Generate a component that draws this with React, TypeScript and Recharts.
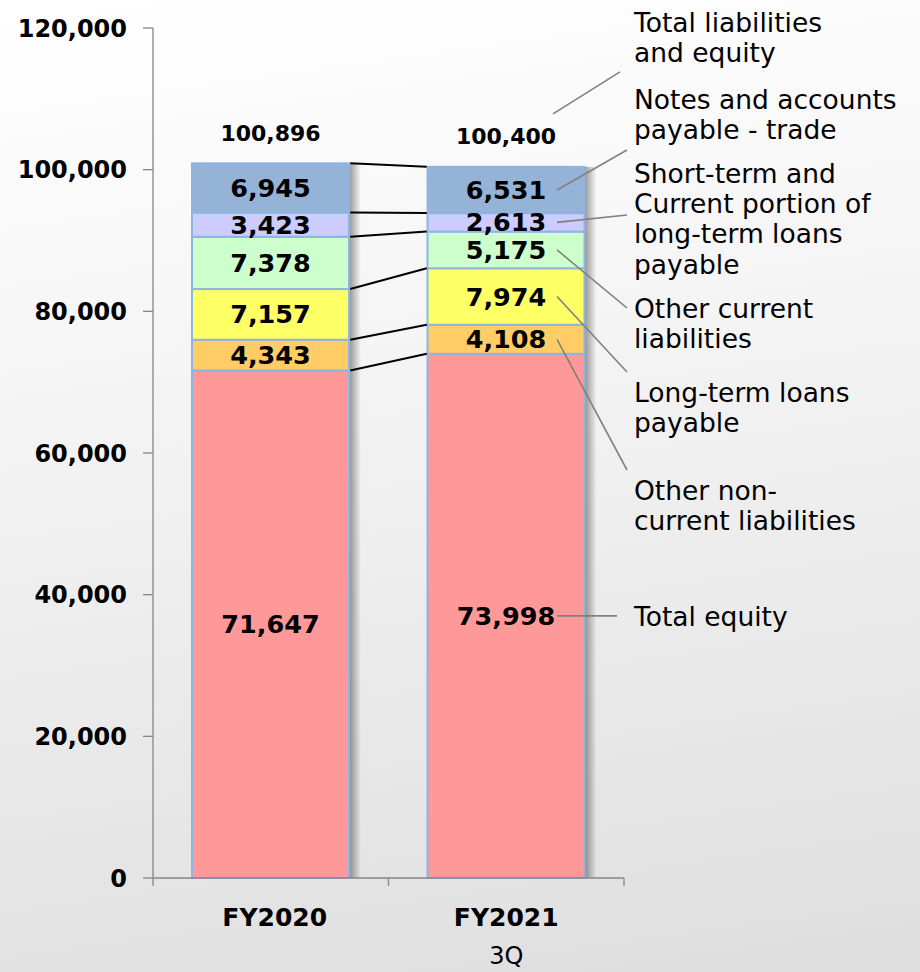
import React from "react";
import { BarChart, Bar, XAxis, YAxis, LabelList, ReferenceLine } from "recharts";

// ---------------- data ----------------
const categories = ["FY2020", "FY2021"];
const categorySubLabels = ["", "3Q"];
const totalEquity = [71647, 73998];
const otherNonCurrentLiabilities = [4343, 4108];
const longTermLoansPayable = [7157, 7974];
const otherCurrentLiabilities = [7378, 5175];
const shortTermLoansPayable = [3423, 2613];
const notesAccountsPayable = [6945, 6531];
const totalLiabilitiesAndEquity = [100896, 100400];
const yTicks = [0, 20000, 40000, 60000, 80000, 100000, 120000];

const totalAnnotation = ["Total liabilities", "and equity"];

// ---------------- styling / layout ----------------
const FONT = "'DejaVu Sans', Verdana, sans-serif";
const W = 920;
const H = 972;
const BAR_W = 157;
const BAR_STROKE = "#8EB4E3";
const LEADER = "#808080";
const TEXT_X = 634;
const NOTE_SIZE = 26.5;
const NOTE_LH = 30.2;

type Series = {
  key: string;
  values: number[];
  color: string;
  note: string[];
  noteBaseline: number; // baseline of first annotation line (layout)
  leaderEnd: [number, number] | null; // end of leader line (layout), null => horizontal
};

const series: Series[] = [
  { key: "equity", values: totalEquity, color: "#FF9999", note: ["Total equity"], noteBaseline: 626, leaderEnd: null },
  { key: "otherNonCurrent", values: otherNonCurrentLiabilities, color: "#FFCC66", note: ["Other non-", "current liabilities"], noteBaseline: 500, leaderEnd: [627, 470] },
  { key: "longTerm", values: longTermLoansPayable, color: "#FFFF66", note: ["Long-term loans", "payable"], noteBaseline: 402, leaderEnd: [627, 372] },
  { key: "otherCurrent", values: otherCurrentLiabilities, color: "#CCFFCC", note: ["Other current", "liabilities"], noteBaseline: 318, leaderEnd: [627, 308] },
  { key: "shortTerm", values: shortTermLoansPayable, color: "#CCCCFF", note: ["Short-term and", "Current portion of", "long-term loans", "payable"], noteBaseline: 183, leaderEnd: [627, 215] },
  { key: "notes", values: notesAccountsPayable, color: "#95B3D7", note: ["Notes and accounts", "payable - trade"], noteBaseline: 109, leaderEnd: [627, 150] },
];

const data = categories.map((cat, i) => {
  const row: Record<string, any> = { cat, sub: categorySubLabels[i], total: totalLiabilitiesAndEquity[i] };
  series.forEach((s) => (row[s.key] = s.values[i]));
  return row;
});

// cumulative tops of each segment, for connector lines
const cumulative = series.map((_, k) =>
  categories.map((__, i) => series.slice(0, k + 1).reduce((acc, s) => acc + s.values[i], 0))
);

const fmt = (v: number) => v.toLocaleString("en-US");

const getBox = (p: any) => {
  const vb = p.viewBox || p;
  return { x: Number(vb.x), y: Number(vb.y), width: Number(vb.width), height: Number(vb.height) };
};
const getIndex = (p: any) => {
  if (typeof p.index === "number") return p.index;
  const c = p.payload?.cat;
  return Math.max(0, categories.indexOf(c));
};

const Annotation = ({ lines, baseline }: { lines: string[]; baseline: number }) => (
  <g>
    {lines.map((l, j) => (
      <text key={j} x={TEXT_X} y={baseline + j * NOTE_LH} fontFamily={FONT} fontSize={NOTE_SIZE} fill="#000">
        {l}
      </text>
    ))}
  </g>
);

const makeSegmentLabel = (s: Series, isTop: boolean) => (props: any) => {
  const { x, y, width, height } = getBox(props);
  const i = getIndex(props);
  const cx = x + width / 2;
  const cy = y + height / 2;
  const val = s.values[i];
  const parts: React.ReactNode[] = [];
  parts.push(
    <text key="v" x={cx} y={cy} textAnchor="middle" dominantBaseline="central" fontFamily={FONT} fontSize={25.5} fontWeight="bold" fill="#000">
      {fmt(val)}
    </text>
  );
  if (i === categories.length - 1) {
    const sx = cx + 51;
    const end = s.leaderEnd ?? [sx + 60, cy];
    parts.push(<line key="l" x1={sx} y1={cy} x2={end[0]} y2={end[1]} stroke={LEADER} strokeWidth={1.6} />);
    parts.push(<Annotation key="a" lines={s.note} baseline={s.noteBaseline} />);
  }
  if (isTop) {
    const ty = y - 30;
    parts.push(
      <text key="t" x={cx} y={ty} textAnchor="middle" dominantBaseline="central" fontFamily={FONT} fontSize={22} fontWeight="bold" fill="#000">
        {fmt(totalLiabilitiesAndEquity[i])}
      </text>
    );
    if (i === categories.length - 1) {
      parts.push(<line key="tl" x1={cx + 47} y1={ty - 23} x2={cx + 114} y2={ty - 65} stroke={LEADER} strokeWidth={1.6} />);
      parts.push(<Annotation key="ta" lines={totalAnnotation} baseline={32} />);
    }
  }
  return <g>{parts}</g>;
};

const SegmentShape = (fill: string) => (props: any) => {
  const { x, y, width, height } = props;
  if (!height || height <= 0) return <g />;
  return (
    <g>
      <rect x={x + width} y={y} width={12} height={height} fill="url(#barShadow)" />
      <rect x={x} y={y} width={width} height={height} fill={fill} stroke={BAR_STROKE} strokeWidth={2} />
    </g>
  );
};

const ConnectorShape = (p: any) => (
  <line x1={p.x1 + BAR_W / 2 + 1} y1={p.y1} x2={p.x2 - BAR_W / 2 - 1} y2={p.y2} stroke="#000" strokeWidth={2} />
);

const X_TICK_SIZE = 10;
const XTick = (props: any) => {
  const { x, y, payload, index } = props;
  const off = payload?.offset ?? 117.75;
  const axisY = y - X_TICK_SIZE;
  const i = typeof index === "number" ? index : categories.indexOf(payload?.value);
  const sub = categorySubLabels[i] || "";
  return (
    <g>
      <line x1={x - off} y1={axisY} x2={x - off} y2={axisY + 8} stroke="#868686" strokeWidth={1.3} />
      {i === categories.length - 1 && (
        <line x1={x + off} y1={axisY} x2={x + off} y2={axisY + 8} stroke="#868686" strokeWidth={1.3} />
      )}
      <text x={x + (i === 0 ? 4 : 0)} y={axisY + 48} textAnchor="middle" fontFamily={FONT} fontSize={25} fontWeight="bold" fill="#000">
        {payload.value}
      </text>
      {sub && (
        <text x={x} y={axisY + 86} textAnchor="middle" fontFamily={FONT} fontSize={24} fill="#000">
          {sub}
        </text>
      )}
    </g>
  );
};

export default function App() {
  return (
    <div
      style={{
        position: "absolute",
        left: 0,
        top: 0,
        width: W,
        height: H,
        background: "linear-gradient(172deg, #ffffff 0%, #f5f5f5 35%, #dedede 100%)",
        overflow: "hidden",
      }}
    >
      <BarChart width={W} height={H} data={data} margin={{ top: 28, right: 296, bottom: 0, left: 0 }} barSize={BAR_W}>
        <defs>
          <linearGradient id="barShadow" x1="0" y1="0" x2="1" y2="0">
            <stop offset="0%" stopColor="#000" stopOpacity={0.4} />
            <stop offset="100%" stopColor="#000" stopOpacity={0} />
          </linearGradient>
        </defs>
        <XAxis
          dataKey="cat"
          height={94}
          axisLine={{ stroke: "#868686", strokeWidth: 1.3 }}
          tickLine={false}
          tickSize={X_TICK_SIZE}
          tickMargin={0}
          tick={<XTick />}
          interval={0}
        />
        <YAxis
          width={153}
          domain={[0, 120000]}
          ticks={yTicks}
          interval={0}
          tickFormatter={fmt}
          axisLine={{ stroke: "#868686", strokeWidth: 1.3 }}
          tickLine={{ stroke: "#868686", strokeWidth: 1.3 }}
          tickSize={10}
          tickMargin={16}
          tick={{ fontFamily: FONT, fontSize: 24, fontWeight: "bold", fill: "#000" }}
        />
        {series.map((s, k) => (
          <Bar key={s.key} dataKey={s.key} stackId="a" fill={s.color} isAnimationActive={false} shape={SegmentShape(s.color)}>
            <LabelList dataKey={s.key} content={makeSegmentLabel(s, k === series.length - 1)} />
          </Bar>
        ))}
        {cumulative.map((c, k) => (
          <ReferenceLine
            key={k}
            segment={[
              { x: categories[0], y: c[0] },
              { x: categories[1], y: c[1] },
            ]}
            stroke="#000"
            strokeWidth={2}
            ifOverflow="visible"
            shape={ConnectorShape}
          />
        ))}
      </BarChart>
    </div>
  );
}
